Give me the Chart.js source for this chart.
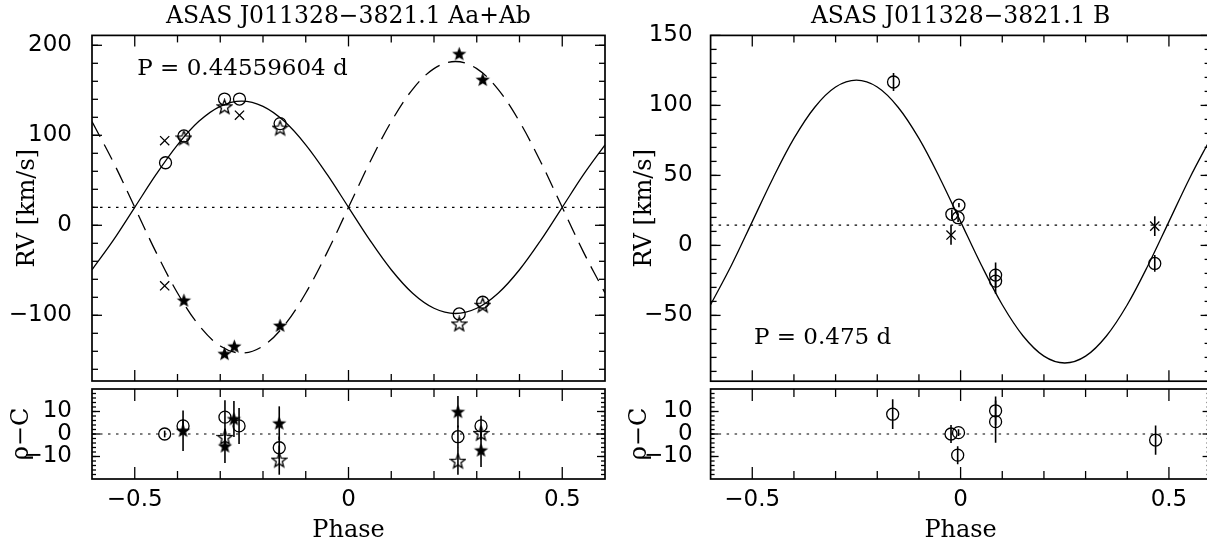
<!DOCTYPE html>
<html><head><meta charset="utf-8">
<script src="https://cdn.jsdelivr.net/npm/chart.js@4.4.0/dist/chart.umd.min.js"></script>
<style>
html,body{margin:0;padding:0;background:#fff;overflow:hidden;width:1207px;height:546px;}
canvas{position:absolute;}
</style></head><body>
<canvas id="lMain" width="640" height="389" style="left:0;top:0"></canvas>
<canvas id="lRes" width="640" height="166" style="left:0;top:380px"></canvas>
<canvas id="rMain" width="600" height="389" style="left:620px;top:0"></canvas>
<canvas id="rRes" width="600" height="166" style="left:620px;top:380px"></canvas>
<script>
// ---------------- data ----------------
const titleLeft = 'ASAS J011328\u22123821.1 Aa+Ab';
const titleRight = 'ASAS J011328\u22123821.1 B';
const periodLeft = 'P = 0.44559604 d';
const periodRight = 'P = 0.475 d';

const xTickLabels = [-0.5, 0, 0.5];
const yTicksLeftMain = [-100, 0, 100, 200];
const yTicksRightMain = [-50, 0, 50, 100, 150];
const yTicksRes = [-10, 0, 10];

// model curves (values read at phase steps)
const curvePhase = [-0.6,-0.55,-0.5,-0.45,-0.4,-0.35,-0.3,-0.25,-0.2,-0.15,-0.1,-0.05,0,0.05,0.1,0.15,0.2,0.25,0.3,0.35,0.4,0.45,0.5,0.55,0.6];
const curveAa = [-49.4,-16.5,20,56.5,89.4,115.5,132.2,138,132.2,115.5,89.4,56.5,20,-16.5,-49.4,-75.5,-92.2,-98,-92.2,-75.5,-49.4,-16.5,20,56.5,89.4];
const curveAb = [115.2,70.1,20,-30.1,-75.2,-111.1,-134.1,-142,-134.1,-111.1,-75.2,-30.1,20,70.1,115.2,151.1,174.1,182,174.1,151.1,115.2,70.1,20,-30.1,-75.2];
const curveB = [-42.4,-14.2,17,48.2,76.4,98.7,113.1,118,113.1,98.7,76.4,48.2,17,-14.2,-42.4,-64.7,-79.1,-84,-79.1,-64.7,-42.4,-14.2,17,48.2,76.4];
const gammaLeft = 20;
const gammaRight = 14.5;
const lineSpan = [-0.6, 0.6];

// left panel RV points
const aaCircPhase = [-0.428, -0.385, -0.290, -0.255, -0.160, 0.259, 0.314];
const aaCircRV    = [69.5, 99.3, 140.3, 140.3, 113, -98.5, -85.5];
const aaStarPhase = [-0.385, -0.290, -0.160, 0.259, 0.314];
const aaStarRV    = [97, 131.7, 108, -109.6, -88.8];
const crossPhase  = [-0.430, -0.430, -0.255];
const crossRV     = [94, -67.2, 122.3];
const abStarPhase = [-0.385, -0.290, -0.267, -0.160, 0.259, 0.314];
const abStarRV    = [-83.4, -142.7, -134.4, -111.4, 190.6, 161.9];

// left panel residuals
const resCircPhase = [-0.430, -0.387, -0.289, -0.256, -0.162, 0.256, 0.310];
const resCircOC    = [0, 3.6, 7.5, 3.6, -6.1, -1.2, 3.6];
const resCircErr   = [1.5, 3, 7.5, 8, 5, 5, 4.5];
const resOStarPhase = [-0.289, -0.162, 0.256, 0.310];
const resOStarOC    = [-1.5, -11.6, -12.1, 0.3];
const resOStarErr   = [4, 6.5, 6, 3];
const resFStarPhase = [-0.387, -0.289, -0.268, -0.162, 0.256, 0.310];
const resFStarOC    = [1.5, -5.4, 6.7, 4.8, 9.9, -7.2];
const resFStarErr   = [9, 7.5, 8, 7.5, 7, 7.5];

// right panel RV points
const bCircPhase = [-0.161, -0.021, -0.004, -0.006, 0.084, 0.084, 0.466];
const bCircRV    = [116.7, 22.2, 28.7, 19.8, -21.2, -25.5, -12.9];
const bCircErr   = [6.5, 3.5, 1.5, 3, 9, 9, 6];
const bCrossPhase = [-0.023, 0.466];
const bCrossRV    = [7.4, 13.8];
const bCrossErr   = [7, 7];

// right panel residuals
const bResPhase = [-0.163, -0.023, -0.005, -0.007, 0.084, 0.084, 0.468];
const bResOC    = [8.8, 0, 0.6, -9.4, 10.3, 5.5, -2.7];
const bResErr   = [6.6, 4, 1.5, 4, 6.4, 9.4, 6.5];

// ---------------- helpers ----------------
const pts = (xs, ys) => xs.map((x, i) => ({x: x, y: ys[i]}));
const fmt = v => (v < 0 ? '\u2212' + Math.abs(v) : String(v));

function makeStar(size, filled, lw) {
  const c = document.createElement('canvas');
  c.width = size; c.height = size;
  const g = c.getContext('2d');
  const cx = size / 2, cy = size / 2 + 0.5, R = size / 2 - 1, r = R * 0.42;
  g.beginPath();
  for (let i = 0; i < 10; i++) {
    const a = -Math.PI / 2 + i * Math.PI / 5;
    const rr = i % 2 === 0 ? R : r;
    g.lineTo(cx + rr * Math.cos(a), cy + rr * Math.sin(a));
  }
  g.closePath();
  if (filled) { g.fillStyle = '#000'; g.fill(); }
  else { g.strokeStyle = '#000'; g.lineWidth = lw; g.stroke(); }
  return c;
}
const openStar = makeStar(17, false, 1.3);
const filledStar = makeStar(17, true, 1);

const circleDS = (d, errs) => ({data: d, pointStyle: 'circle', pointRadius: 6, borderColor: '#000', backgroundColor: 'rgba(0,0,0,0)', borderWidth: 1.3, errs: errs});
const imgDS = (d, img, errs) => ({data: d, pointStyle: img, pointRadius: 7, borderColor: '#000', backgroundColor: '#000', errs: errs});
const crossDS = (d, errs) => ({data: d, pointStyle: 'crossRot', pointRadius: 6.5, borderColor: '#000', borderWidth: 1.3, errs: errs});
const curveDS = (d, dash) => ({data: d, showLine: true, pointRadius: 0, borderColor: '#000', borderWidth: 1.3, tension: 0.35, borderDash: dash || []});
const dottedDS = (y) => ({data: pts(lineSpan, [y, y]), showLine: true, pointRadius: 0, borderColor: '#000', borderWidth: 1.2, borderDash: [2.5, 5.5]});

// frame with inward ticks drawn through the chart's scales
const framePlugin = {
  id: 'frame',
  afterDraw(chart, args, o) {
    const {ctx, chartArea: a, scales} = chart;
    const xs = scales.x, ys = scales.y;
    ctx.save();
    ctx.strokeStyle = '#000';
    ctx.lineWidth = 1.3;
    const seg = (x1, y1, x2, y2) => { ctx.beginPath(); ctx.moveTo(x1, y1); ctx.lineTo(x2, y2); ctx.stroke(); };
    const xt = (vals, len) => vals.forEach(v => { const p = xs.getPixelForValue(v); seg(p, a.top, p, a.top + len); seg(p, a.bottom, p, a.bottom - len); });
    const yt = (vals, len) => vals.forEach(v => { const p = ys.getPixelForValue(v); seg(a.left, p, a.left + len, p); seg(a.right, p, a.right - len, p); });
    xt(o.xMajor, o.xMajLen); xt(o.xMinor, o.xMinLen);
    yt(o.yMajor, o.yMajLen); yt(o.yMinor, o.yMinLen);
    ctx.lineWidth = 1.7;
    ctx.strokeRect(a.left, a.top, a.right - a.left, a.bottom - a.top);
    ctx.restore();
  }
};

const errPlugin = {
  id: 'errbars',
  afterDatasetsDraw(chart) {
    const {ctx, chartArea: a} = chart;
    const ys = chart.scales.y;
    ctx.save();
    ctx.beginPath(); ctx.rect(a.left, a.top, a.right - a.left, a.bottom - a.top); ctx.clip();
    ctx.strokeStyle = '#000'; ctx.lineWidth = 1.6;
    chart.data.datasets.forEach((ds, i) => {
      if (!ds.errs) return;
      const meta = chart.getDatasetMeta(i);
      meta.data.forEach((el, j) => {
        const v = ds.data[j].y, e = ds.errs[j];
        ctx.beginPath();
        ctx.moveTo(el.x, ys.getPixelForValue(v - e));
        ctx.lineTo(el.x, ys.getPixelForValue(v + e));
        ctx.stroke();
      });
    });
    ctx.restore();
  }
};

const labelPlugin = {
  id: 'ptext',
  afterDraw(chart, args, o) {
    if (!o.text) return;
    const {ctx, scales} = chart;
    ctx.save();
    ctx.fillStyle = '#000';
    ctx.font = '23px "DejaVu Serif"';
    ctx.textAlign = 'left'; ctx.textBaseline = 'middle';
    ctx.fillText(o.text, scales.x.getPixelForValue(o.x), scales.y.getPixelForValue(o.y));
    ctx.restore();
  }
};

const xMinor = [-0.4, -0.3, -0.2, -0.1, 0.1, 0.2, 0.3, 0.4];
function range(a, b, s) { const r = []; for (let v = a; v <= b + 1e-9; v += s) r.push(Math.round(v * 1000) / 1000); return r; }

function yScale(min, max, ticksArr, w, pad, title, titlePad) {
  return {
    type: 'linear', position: 'left', min: min, max: max,
    grid: {display: false, drawTicks: false}, border: {display: false},
    ticks: {color: '#000', font: {family: 'DejaVu Sans', size: 23}, padding: pad, callback: v => fmt(v)},
    afterBuildTicks: s => { s.ticks = ticksArr.map(v => ({value: v})); },
    afterFit: s => { s.width = w; s.paddingTop = 0; s.paddingBottom = 0; },
    title: {display: true, text: title, color: '#000', font: {family: 'DejaVu Serif', size: 24}, padding: {top: titlePad, bottom: 0}}
  };
}
const xHidden = {type: 'linear', min: -0.6, max: 0.6, display: false};
const xShown = {
  type: 'linear', position: 'bottom', min: -0.6, max: 0.6,
  grid: {display: false, drawTicks: false}, border: {display: false},
  ticks: {color: '#000', font: {family: 'DejaVu Sans', size: 23}, padding: 7, maxRotation: 0, autoSkip: false, callback: v => fmt(v)},
  afterBuildTicks: s => { s.ticks = xTickLabels.map(v => ({value: v})); },
  afterFit: s => { s.height = 67; s.paddingLeft = 0; s.paddingRight = 0; },
  title: {display: true, text: 'Phase', color: '#000', font: {family: 'DejaVu Serif', size: 24}, padding: {top: 0, bottom: 0.6}}
};

function build(id, datasets, scales, layoutPad, title, frameOpts, ptext) {
  return new Chart(document.getElementById(id), {
    type: 'scatter',
    data: {datasets: datasets},
    options: {
      responsive: false, animation: false, devicePixelRatio: 1,
      layout: {padding: layoutPad},
      scales: scales,
      plugins: {
        legend: {display: false}, tooltip: {enabled: false},
        title: title ? {display: true, text: title, color: '#000', fullSize: false, font: {family: 'DejaVu Serif', size: 23.5, weight: 'normal'}, padding: {top: 3, bottom: 4}} : {display: false},
        frame: frameOpts,
        ptext: ptext || {}
      }
    },
    plugins: [framePlugin, errPlugin, labelPlugin]
  });
}

// ---------------- left panel ----------------
build('lMain', [
  dottedDS(gammaLeft),
  curveDS(pts(curvePhase, curveAa)),
  curveDS(pts(curvePhase, curveAb), [17, 9]),
  circleDS(pts(aaCircPhase, aaCircRV)),
  imgDS(pts(aaStarPhase, aaStarRV), openStar),
  crossDS(pts(crossPhase, crossRV)),
  imgDS(pts(abStarPhase, abStarRV), filledStar)
], {x: xHidden, y: yScale(-173, 211, yTicksLeftMain, 92, 20, 'RV [km/s]', 13.6)},
  {left: 0, right: 35, top: 0.2, bottom: 0}, titleLeft,
  {xMajor: xTickLabels, xMinor: xMinor, xMajLen: 11, xMinLen: 7, yMajor: yTicksLeftMain, yMinor: range(-160, 200, 20), yMajLen: 10, yMinLen: 6},
  {text: periodLeft, x: -0.494, y: 174});

build('lRes', [
  dottedDS(0),
  circleDS(pts(resCircPhase, resCircOC), resCircErr),
  imgDS(pts(resOStarPhase, resOStarOC), openStar, resOStarErr),
  imgDS(pts(resFStarPhase, resFStarOC), filledStar, resFStarErr)
], {x: xShown, y: yScale(-20, 20, yTicksRes, 92, 20, '\u03C1\u2212C', 7.6)},
  {left: 0, right: 35, top: 9, bottom: 0}, null,
  {xMajor: xTickLabels, xMinor: xMinor, xMajLen: 12, xMinLen: 8, yMajor: yTicksRes, yMinor: range(-18, 18, 2), yMajLen: 8, yMinLen: 4});

// ---------------- right panel ----------------
build('rMain', [
  dottedDS(gammaRight),
  curveDS(pts(curvePhase, curveB)),
  circleDS(pts(bCircPhase, bCircRV), bCircErr),
  crossDS(pts(bCrossPhase, bCrossRV), bCrossErr)
], {x: xHidden, y: yScale(-97, 150, yTicksRightMain, 90.6, 18, 'RV [km/s]', 10.6)},
  {left: 0, right: 9.4, top: 0.2, bottom: 0}, titleRight,
  {xMajor: xTickLabels, xMinor: xMinor, xMajLen: 11, xMinLen: 7, yMajor: yTicksRightMain, yMinor: range(-90, 140, 10), yMajLen: 10, yMinLen: 6},
  {text: periodRight, x: -0.496, y: -66});

build('rRes', [
  dottedDS(0),
  circleDS(pts(bResPhase, bResOC), bResErr)
], {x: xShown, y: yScale(-20, 20, yTicksRes, 90.6, 18, '\u03C1\u2212C', 5.6)},
  {left: 0, right: 9.4, top: 9, bottom: 0}, null,
  {xMajor: xTickLabels, xMinor: xMinor, xMajLen: 12, xMinLen: 8, yMajor: yTicksRes, yMinor: range(-18, 18, 2), yMajLen: 8, yMinLen: 4});
</script>
</body></html>
